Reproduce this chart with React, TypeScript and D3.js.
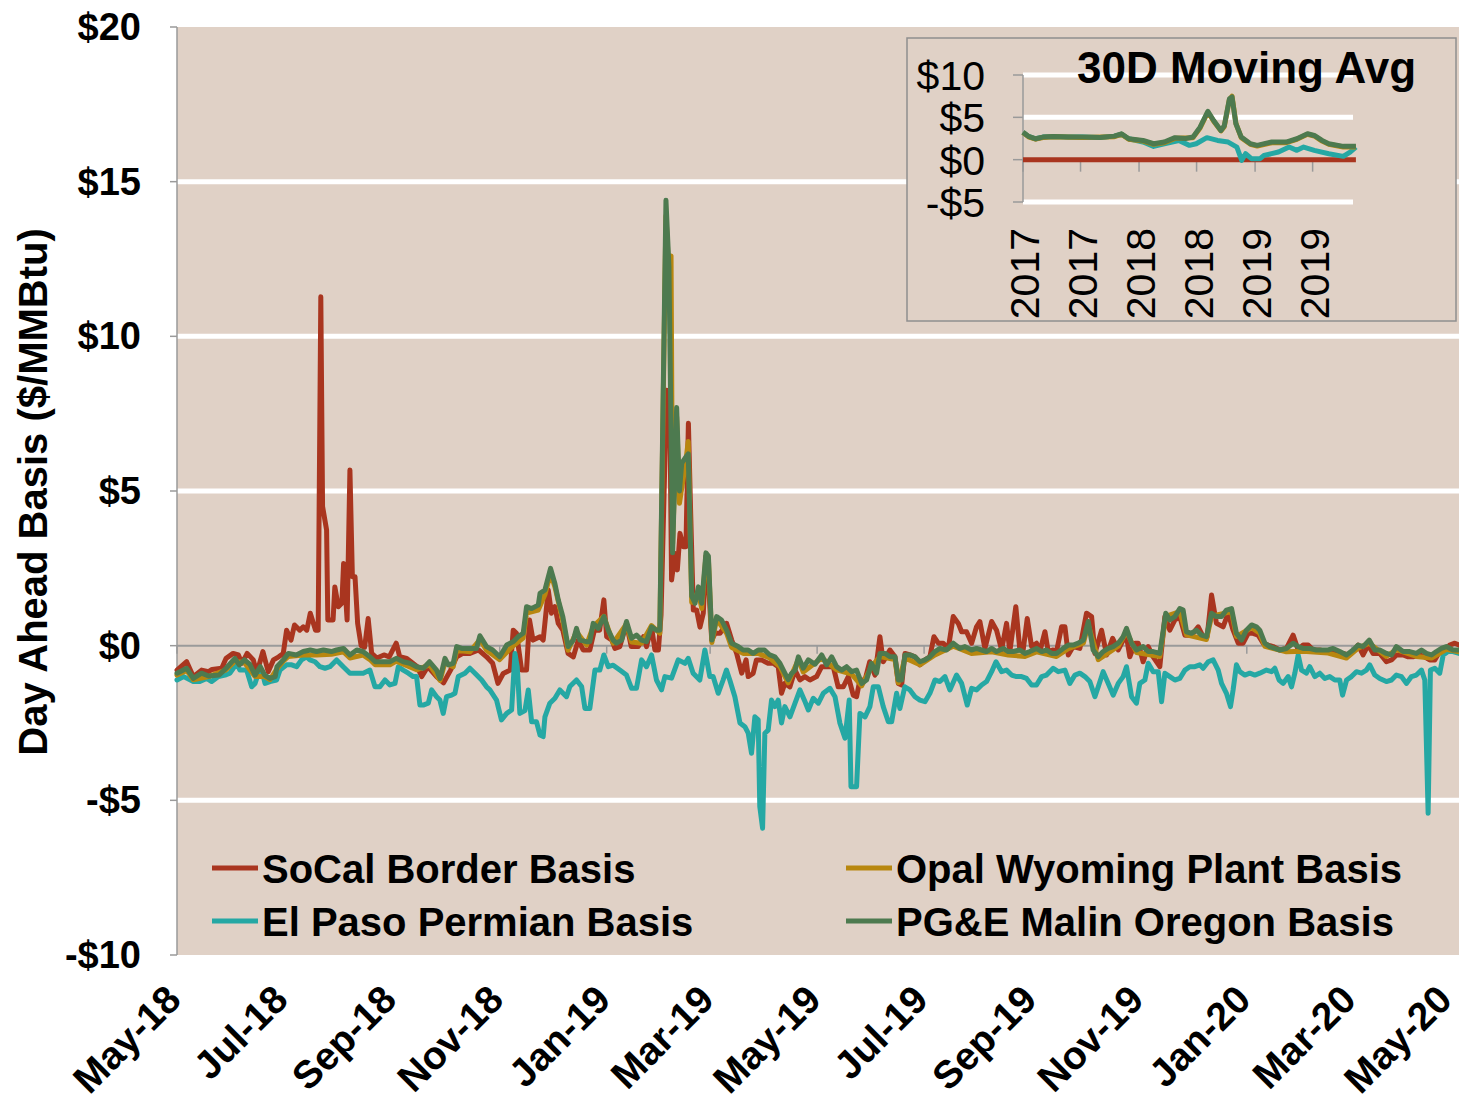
import React from 'react';
import * as d3 from 'd3';

type Pt = [number, number];

const seriesNames = ['SoCal Border Basis', 'El Paso Permian Basis', 'Opal Wyoming Plant Basis', 'PG&E Malin Oregon Basis'];
const seriesColors = ['#a9351f', '#25a8a4', '#b8870f', '#4d7a4f'];

// main chart points: [days since May 1 2018, $/MMBtu]
const socal: Pt[] = [
  [0, -0.79], [5.5, -0.52], [9.3, -1.0], [14, -0.79], [18, -0.84], [20, -0.77], [25.5, -0.73], [28, -0.41], [32, -0.25],
  [35, -0.3], [37, -0.57], [40, -0.25], [43.5, -0.46], [45.5, -0.89], [49, -0.19], [52, -0.84], [55, -0.46], [58, -0.36],
  [60.6, -0.25], [62.5, 0.5], [65, 0.18], [67, 0.67], [70, 0.5], [72, 0.61], [74, 0.5], [76, 1.05], [79, 0.5], [80.5, 0.5],
  [82, 11.28], [83, 4.5], [85.3, 3.74], [86, 0.83], [89, 0.83], [90, 1.9], [92, 1.26], [94, 1.37], [95, 2.66], [97, 0.83],
  [98.6, 5.68], [100, 2.23], [101.5, 2.23], [103, 0.72], [105, 0], [107, -0.05], [109, 0.88], [111, -0.25], [114, -0.4],
  [118, -0.3], [121, -0.36], [125, 0.08], [127, -0.36], [131, -0.41], [137, -0.68], [139.5, -1.0], [143, -0.68], [148, -1.0],
  [152, -1.2], [156, -0.79], [159.5, -0.36], [163, -0.25], [167, -0.25], [172, -0.14], [176.5, -0.36], [180, -0.57],
  [183, -1.22], [186, -0.9], [190, -0.79], [191.7, 0.5], [193.6, 0.4], [196.5, -0.79], [199.3, -0.79], [201, 0.83],
  [203, 0.18], [207, 0.29], [208.8, 0.18], [211.7, 1.8], [213.5, 1.05], [215.5, 1.26], [217.4, 0.72], [220, 0.5],
  [223, -0.25], [226, -0.36], [228.8, 0.18], [231.6, -0.14], [235.4, -0.14], [238, 0.5], [241, 0.5], [243.4, 1.48],
  [245, 0.29], [248, 0.18], [249.7, -0.09], [252.5, -0.03], [256.3, 0.72], [259, -0.03], [263, -0.03], [266, 0.29],
  [267.7, -0.03], [270.6, 0.61], [272.5, -0.14], [274.5, -0.14], [276, 1.0], [279.2, 8.26], [281.1, 7.2], [282, 2.12],
  [284, 2.98], [285.3, 2.45], [286.8, 3.63], [288.7, 3.2], [290.2, 3.2], [291.6, 7.19], [292.9, 4.28], [294.4, 1.15],
  [296.3, 1.15], [298.2, 0.6], [300.1, 1.05], [301.6, 2.88], [303, 2.12], [304.9, 0.18], [306.8, 0.4], [309.6, 0.4],
  [313.4, 0.72], [316.3, 0.18], [319.1, -0.25], [322, -0.89], [324.5, -0.46], [325.7, -1.0], [328.5, -0.9], [330.4, -0.46],
  [333.2, -0.46], [337, -0.57], [340, -0.57], [342.8, -0.68], [344.7, -1.54], [346.6, -1.22], [349.5, -1.33], [352.4, -0.79],
  [355.2, -1.11], [358, -1.0], [360.9, -1.11], [364.7, -1.0], [367.6, -0.68], [371.4, -0.68], [374.2, -0.68], [377, -1.33],
  [379.9, -1.33], [382.8, -1.0], [385.6, -1.6], [387.5, -1.65], [389.4, -1.11], [392.3, -1.11], [395, -0.52], [398, -0.95],
  [400.8, 0.29], [402.7, -0.52], [406.5, -0.14], [409.4, -0.36], [411.3, -1.22], [413.2, -1.27], [415.1, -0.25],
  [417.9, -0.3], [420.8, -0.36], [423.6, -0.62], [426.5, -0.46], [429.3, -0.36], [431.6, 0.29], [434.1, 0.08], [436.9, 0.08],
  [439.8, -0.09], [442.6, 0.94], [445.5, 0.72], [447.4, 0.45], [450.2, 0.45], [453.1, 0.08], [455.9, 0.61], [457.8, 0.78],
  [460.7, -0.09], [464.5, 0.78], [467.3, 0.5], [470.2, -0.14], [473, 0.72], [474.9, -0.19], [478.3, 1.26], [480.6, -0.14],
  [482.5, -0.14], [484.8, 0.88], [487.3, -0.03], [490.1, 0.08], [492, -0.19], [494.9, 0.45], [496.8, -0.19], [499.6, -0.14],
  [501.5, -0.19], [504.4, 0.61], [506.3, 0.61], [508.2, -0.3], [511, -0.03], [514.8, -0.09], [518.6, 1.05], [521.5, 0.94],
  [523.4, -0.25], [527.2, 0.5], [530.1, -0.3], [533.5, 0.24], [536.7, -0.14], [539.5, 0.18], [541.4, 0.29], [543.3, -0.36],
  [546.2, 0.08], [548.1, 0.08], [550.9, -0.52], [553.8, -0.03], [556.6, -0.36], [560.4, -0.68], [563.3, 0.94], [566.1, 0.5],
  [569, 0.83], [571.8, 0.94], [574.7, 0.34], [578.5, 0.34], [582.3, 0.61], [585.1, 0.29], [587.4, 0.29], [589.9, 1.64],
  [592.7, 0.72], [596.5, 0.61], [599.4, 1.05], [602.2, 0.5], [605.1, 0.08], [607.9, 0.08], [610.8, 0.4], [613.6, 0.4],
  [616.5, 0.34], [619.3, 0.08], [622.2, 0.02], [625, -0.03], [628.8, -0.14], [632.6, -0.09], [636.4, 0.34], [639.3, -0.14],
  [642.1, 0.02], [645, 0.02], [647.8, -0.14], [651.6, -0.14], [655.4, -0.19], [659.1, -0.14], [662, -0.3], [664.9, -0.25],
  [667.8, -0.3], [670.6, -0.19], [673.5, 0.02], [676.3, -0.3], [679.2, 0.02], [682, -0.25], [685.8, -0.25], [689.6, -0.52],
  [692.5, -0.46], [695.3, -0.3], [699.1, -0.3], [702, -0.36], [704.8, -0.36], [708.6, -0.3], [711.4, -0.36], [714.3, -0.46],
  [717.2, -0.46], [720, -0.19], [722.9, -0.19], [725.7, 0.02], [728.6, 0.08], [731, 0.02],
];

const elPaso: Pt[] = [
  [0, -1.11], [3.8, -1.0], [9.3, -1.16], [13, -1.16], [16.9, -1.06], [19.8, -1.16], [23.6, -1.0], [27.4, -0.95], [30.2, -0.89],
  [32.1, -0.73], [34, -0.57], [35.9, -0.79], [39.7, -0.79], [42.6, -1.33], [44.5, -1.22], [46.4, -0.89], [48.3, -0.79],
  [50.2, -1.22], [53, -1.16], [56.8, -1.11], [58.7, -0.79], [62.5, -0.62], [65.4, -0.62], [68.2, -0.68], [71, -0.46],
  [73.9, -0.36], [75.8, -0.46], [78.7, -0.52], [81.5, -0.68], [84.4, -0.73], [87.2, -0.68], [91, -0.46], [94.8, -0.68],
  [98.6, -0.89], [102.4, -0.89], [106.2, -0.89], [110, -0.79], [112.9, -1.33], [115.7, -1.33], [118.6, -1.11], [121.4, -1.27],
  [124.3, -1.22], [126.2, -0.68], [129, -0.79], [131.9, -0.89], [134.7, -1.0], [136.6, -1.0], [138.5, -1.92], [140.4, -1.92],
  [143.3, -1.86], [145.2, -1.43], [148, -1.65], [149.9, -1.76], [151.8, -2.19], [153.7, -1.65], [156.6, -1.6], [158.5, -1.54],
  [160.4, -1.0], [164.2, -0.89], [167, -0.73], [169.9, -0.89], [173.7, -1.11], [176.5, -1.33], [178.4, -1.43], [182.2, -1.76],
  [185, -2.4], [188, -2.19], [190.8, -2.08], [192.7, -0.25], [194, -0.68], [195.5, -2.19], [198.4, -2.1], [200.3, -1.43],
  [202.2, -2.46], [205, -2.46], [207, -2.89], [208.8, -2.94], [209.8, -2.3], [212.6, -1.86], [215.5, -1.7], [218.3, -1.43],
  [222.1, -1.65], [224, -1.32], [227.8, -1.11], [230.7, -1.32], [232.6, -2.03], [235.4, -2.03], [238.3, -0.79], [241.1, -0.79],
  [243.4, -0.3], [245.9, -0.68], [248.7, -0.63], [252.5, -0.79], [256.3, -0.95], [259.2, -1.38], [262, -1.38], [264.9, -0.46],
  [267.7, -0.68], [270.6, -0.3], [273.4, -1.11], [276.3, -1.43], [278.2, -1.0], [282, -1.05], [285.8, -0.46], [289.6, -0.57],
  [291.5, -0.41], [294.3, -0.89], [298.1, -1.11], [301, -0.14], [303.8, -1.0], [305.7, -1.0], [308.6, -1.54], [311.4, -1.11],
  [313.3, -0.79], [315.2, -1.11], [318.1, -1.65], [321, -2.5], [323.8, -2.62], [325.7, -2.83], [327.6, -3.48], [329.5, -2.3],
  [331.4, -2.4], [332.3, -5.2], [333.9, -5.9], [335.2, -2.83], [337.1, -2.73], [339, -1.76], [340.9, -1.97], [342.8, -1.76],
  [344.7, -2.5], [346.6, -1.97], [349.5, -2.3], [352.4, -1.86], [355.2, -1.43], [358, -1.8], [360, -2.08], [362.8, -1.7],
  [365.7, -1.86], [368.5, -1.54], [372.3, -1.38], [375.2, -1.65], [378, -2.51], [380.9, -2.99], [383.3, -1.76], [384.3, -4.56],
  [387.5, -4.56], [389.4, -2.19], [392.3, -2.3], [395.1, -1.97], [397, -1.33], [399.9, -1.33], [402.7, -1.97], [405.6, -2.46],
  [407.5, -2.46], [410.3, -1.54], [412.2, -2.03], [415, -1.33], [417.9, -1.43], [420.8, -1.65], [423.6, -1.76], [426.5, -1.81],
  [429.3, -1.54], [432.2, -1.11], [435, -1.16], [437.9, -1.0], [440.7, -1.43], [444.5, -0.95], [447.4, -1.22], [450.6, -1.92],
  [453.1, -1.38], [455.9, -1.43], [458.8, -1.27], [461.6, -1.16], [464.5, -0.84], [467, -0.52], [470.2, -0.84], [473, -0.79],
  [475.9, -0.95], [478.7, -1.0], [481.6, -1.0], [484.4, -1.06], [487.3, -1.27], [490.1, -1.27], [493, -1.0], [495.8, -0.95],
  [499.6, -0.73], [502.5, -0.84], [506.3, -0.79], [509.1, -1.22], [512, -0.95], [514.8, -0.89], [517.7, -1.0], [520.5, -1.16],
  [523.4, -1.65], [525.3, -1.33], [528.1, -0.84], [531, -1.22], [533.8, -1.6], [536.7, -1.22], [539.5, -1.0], [541.4, -0.68],
  [544.3, -1.65], [547.1, -1.86], [549, -1.22], [551.9, -1.11], [553.8, -0.57], [556.6, -0.84], [559.5, -0.84], [561.4, -1.81],
  [563.3, -0.89], [566.1, -1.0], [569, -1.11], [571.8, -1.06], [574.7, -0.79], [577.5, -0.68], [580.4, -0.68], [583.2, -0.62],
  [585.1, -0.73], [588, -0.52], [590.8, -0.46], [593.7, -0.79], [595.6, -1.22], [598.4, -1.54], [600.7, -1.97], [602.2, -1.43],
  [604.1, -0.62], [606, -0.84], [608.9, -0.95], [611.7, -0.89], [614.6, -0.95], [617.4, -0.89], [621.2, -0.79], [624.1, -0.84],
  [626, -0.73], [628.4, -1.11], [630.7, -1.22], [633.6, -1.0], [635.5, -1.33], [637.4, -0.89], [639.3, -0.3], [641.2, -0.79],
  [644, -0.89], [645.9, -0.68], [648.8, -1.0], [651.6, -0.89], [654.5, -1.06], [657.3, -1.0], [660.2, -1.11], [663, -1.11],
  [664.6, -1.6], [666.9, -1.11], [669.7, -1.0], [672.5, -0.84], [675.4, -0.89], [678.2, -0.79], [680.1, -0.62], [683, -0.95],
  [685.8, -1.06], [689.6, -1.16], [692.5, -1.11], [695.3, -0.95], [698.2, -1.0], [701, -1.22], [703.9, -1.0], [706.7, -0.95],
  [709.6, -0.79], [711.5, -1.11], [713.4, -5.42], [714.7, -0.79], [717.2, -0.73], [720, -0.89], [722, -0.3], [724.8, -0.19],
  [727.6, -0.19], [731, -0.25],
];

const opal: Pt[] = [
  [0, -0.95], [5.5, -0.8], [9.3, -1.1], [18, -1.0], [28, -0.78], [33, -0.5], [38.5, -0.55], [44.5, -1.0], [50, -1.0],
  [53, -1.1], [57, -0.75], [60.6, -0.5], [63.5, -0.35], [72, -0.3], [79.6, -0.3], [88, -0.28], [95, -0.2], [98.6, -0.4],
  [106, -0.3], [110, -0.45], [113, -0.62], [121.4, -0.62], [125, -0.5], [136.6, -0.78], [144, -0.62], [150, -1.12],
  [152.8, -0.55], [157.5, -0.68], [159.5, -0.15], [167, -0.2], [172.7, 0.2], [176.5, -0.15], [184, -0.45], [191.7, 0.0],
  [197.4, 0.25], [199.3, 1.05], [206, 1.15], [209.8, 1.65], [213, 2.35], [215.5, 1.9], [220, 0.8], [223, -0.15],
  [227.8, 0.45], [233.5, 0.02], [237.3, 0.62], [243.4, 0.95], [248.7, 0.08], [256.3, 0.7], [259.2, 0.12], [264.9, 0.08],
  [270.6, 0.65], [275.3, 0.4], [278.8, 13.9], [280.5, 12.0], [281.7, 12.6], [282.6, 3.3], [284.9, 7.4], [286.5, 4.6],
  [290.2, 6.0], [291.5, 6.6], [293.5, 1.4], [297.3, 1.75], [299.2, 1.2], [301.6, 2.9], [303, 2.8], [305, 0.1], [307.7, 0.85],
  [313.4, 0.4], [316.2, -0.05], [322.8, -0.25], [331.4, -0.25], [338, -0.4], [343.8, -0.68], [348.5, -1.2], [354.3, -0.45],
  [357.1, -0.85], [367.6, -0.4], [376.1, -0.78], [384.7, -0.92], [390.4, -1.3], [396, -0.68], [400.8, -0.35], [409.4, -0.45],
  [411.3, -1.2], [415.1, -0.4], [423.6, -0.62], [432.2, -0.3], [442.6, -0.02], [453, -0.25], [464.5, -0.2], [474, -0.3],
  [483.5, -0.35], [490.1, -0.2], [501.5, -0.35], [508.2, -0.1], [516.8, 0.08], [519.6, 0.68], [525.3, -0.45], [536.7, -0.02],
  [541.4, 0.45], [547.1, -0.22], [560.4, -0.35], [563.8, 0.95], [571.8, 1.1], [575.6, 0.35], [587, 0.2], [589.9, 0.95],
  [601.3, 1.1], [604.1, 0.3], [612.7, 0.58], [617.4, 0.4], [620.3, -0.02], [632.6, -0.2], [642.1, -0.18], [656.4, -0.24],
  [666.8, -0.4], [673.5, -0.08], [679.8, 0.08], [689.6, -0.35], [695.3, -0.13], [706.7, -0.35], [715.3, -0.4], [723.8, -0.12],
  [731, -0.2],
];

const malin: Pt[] = [
  [0, -0.89], [5.5, -0.73], [9.3, -1.06], [14, -0.89], [18, -0.98], [24, -0.95], [28, -0.73], [33, -0.41], [35.5, -0.62],
  [38.5, -0.46], [41.5, -0.6], [44.5, -0.95], [47.5, -0.68], [50, -0.95], [53, -1.06], [56, -1.0], [57, -0.68], [60.6, -0.46],
  [63.5, -0.25], [68, -0.3], [72, -0.19], [76, -0.14], [79.6, -0.19], [83.5, -0.14], [88, -0.19], [91, -0.14], [95, -0.09],
  [98.6, -0.3], [102.5, -0.14], [106, -0.19], [110, -0.36], [113, -0.52], [118, -0.52], [121.4, -0.52], [125, -0.41],
  [129, -0.52], [132.8, -0.57], [136.6, -0.68], [140.5, -0.73], [144, -0.52], [148, -0.79], [150, -1.06], [152.8, -0.41],
  [154.7, -0.62], [157.5, -0.57], [159.5, -0.03], [162.3, -0.09], [167, -0.09], [170.8, -0.09], [172.7, 0.32], [176.5, -0.03],
  [180, -0.14], [184, -0.36], [188, 0.02], [191.7, 0.13], [194.5, 0.29], [197.4, 0.4], [199.3, 1.26], [202.2, 1.2], [206, 1.31],
  [207, 1.69], [209.8, 1.8], [213, 2.5], [215.5, 2.0], [217.4, 1.48], [220, 0.94], [223, -0.03], [226, 0.18], [227.8, 0.56],
  [229.7, 0.18], [233.5, 0.13], [235.4, 0.13], [237.3, 0.72], [240.2, 0.56], [243.4, 0.94], [245.9, 0.5], [248.7, 0.18],
  [250.6, 0.08], [253.5, 0.18], [256.3, 0.78], [259.2, 0.24], [262, 0.34], [264.9, 0.18], [267.7, 0.13], [270.6, 0.61],
  [273.4, 0.5], [275.3, 0.5], [278.8, 14.4], [280.5, 12.25], [282.6, 3.0], [284.9, 7.7], [286.5, 5.0], [287.8, 5.9],
  [290.2, 6.1], [291.5, 6.2], [293.5, 1.6], [295.4, 1.37], [297.3, 1.9], [299.2, 1.37], [301.6, 3.0], [303, 2.9], [305, 0.18],
  [307.7, 0.94], [310.5, 0.83], [313.4, 0.5], [316.2, 0.08], [320, -0.03], [322.8, -0.14], [325.7, -0.14], [328.5, -0.25],
  [331.4, -0.14], [335, -0.14], [338, -0.3], [340.9, -0.36], [343.8, -0.57], [346.6, -0.89], [348.5, -1.1], [350.4, -0.9],
  [352.4, -0.79], [354.3, -0.36], [357.1, -0.73], [360, -0.46], [363.8, -0.6], [367.6, -0.3], [370.4, -0.62], [373.3, -0.36],
  [376.1, -0.68], [379, -0.79], [381.8, -0.68], [384.7, -0.84], [387.5, -0.79], [390.4, -1.22], [393.2, -1.11], [396, -0.57],
  [398.9, -0.89], [400.8, -0.25], [403.7, -0.25], [406.5, -0.36], [409.4, -0.36], [411.3, -1.11], [413.2, -1.11],
  [415.1, -0.3], [417.9, -0.3], [420.8, -0.36], [423.6, -0.52], [426.5, -0.46], [429.3, -0.36], [432.2, -0.19], [435, -0.09],
  [438.8, -0.14], [442.6, 0.08], [446.4, -0.09], [449.3, -0.03], [453, -0.14], [455.9, -0.09], [458.8, -0.14], [461.6, -0.19],
  [464.5, -0.09], [467.3, -0.19], [471.1, -0.09], [474, -0.19], [476.8, -0.19], [480.6, -0.14], [483.5, -0.25], [486.3, -0.19],
  [490.1, -0.09], [493, -0.19], [495.8, -0.14], [498.7, -0.25], [501.5, -0.25], [505.3, -0.09], [508.2, 0.02], [511, 0.02],
  [513.9, 0.08], [516.8, 0.18], [519.6, 0.78], [522.4, -0.14], [525.3, -0.36], [528.1, -0.19], [531, -0.09], [533.8, -0.03],
  [536.7, 0.08], [539.5, 0.29], [541.4, 0.56], [544.3, 0.08], [547.1, -0.14], [550.9, -0.03], [553.8, -0.19], [556.6, -0.19],
  [560.4, -0.25], [563.8, 1.05], [566.1, 0.83], [569, 0.94], [571.8, 1.2], [573.7, 1.15], [575.6, 0.45], [578.5, 0.4],
  [581.3, 0.5], [584.2, 0.34], [587, 0.29], [589.9, 1.05], [592.7, 0.94], [595.6, 0.94], [598.4, 1.15], [601.3, 1.2],
  [604.1, 0.4], [607, 0.18], [609.8, 0.5], [612.7, 0.67], [615.5, 0.61], [617.4, 0.5], [620.3, 0.08], [623.1, -0.03],
  [626, -0.09], [628.8, -0.14], [632.6, -0.09], [636.4, 0.08], [639.3, -0.03], [642.1, -0.09], [645.9, -0.09], [649.7, -0.14],
  [652.6, -0.14], [656.4, -0.14], [659.2, -0.09], [663, -0.19], [666.8, -0.3], [670.6, -0.14], [673.5, 0.02], [676.3, -0.03],
  [679.8, 0.18], [683, -0.14], [685.8, -0.14], [689.6, -0.25], [692.5, -0.3], [695.3, -0.03], [699.1, -0.19], [702.9, -0.19],
  [706.7, -0.25], [709.6, -0.14], [712.4, -0.25], [715.3, -0.3], [718.1, -0.19], [721, -0.09], [723.8, -0.03], [727.6, -0.14],
  [731, -0.14],
];

// inset, 30 day moving average: [months since Jan 2017, $/MMBtu]
const avgSocal: Pt[] = [[0, 0], [34.4, 0]];
const avgElPaso: Pt[] = [
  [0, 3.25], [0.57, 2.75], [1.31, 2.47], [2.05, 2.67], [3.16, 2.75], [4.64, 2.67], [6.12, 2.67], [7.96, 2.63], [9.44, 2.78],
  [10.18, 3.0], [10.92, 2.47], [12.4, 2.08], [13.5, 1.57], [14.6, 1.88], [16.1, 2.27], [17.2, 1.69], [17.9, 1.88], [19.0, 2.6],
  [20.1, 2.27], [21.2, 2.08], [22.1, 1.49], [22.6, -0.08], [23.0, 0.7], [23.6, 0.12], [24.5, 0.12], [24.9, 0.5], [26.4, 0.9],
  [27.5, 1.49], [28.3, 1.1], [29.0, 1.49], [30.1, 1.1], [31.6, 0.7], [33.1, 0.39], [33.8, 0.9], [34.4, 1.49],
];
const avgOpal: Pt[] = [
  [0, 3.2], [0.57, 2.7], [1.31, 2.42], [2.05, 2.62], [3.16, 2.7], [6.12, 2.62], [9.44, 2.72], [10.18, 3.0], [10.92, 2.42],
  [12.4, 2.2], [13.5, 1.82], [14.6, 2.0], [15.7, 2.52], [17.57, 2.6], [18.3, 3.75], [19.1, 5.6], [19.7, 4.55], [20.45, 3.4],
  [20.8, 3.9], [21.33, 7.1], [21.6, 7.5], [22.0, 4.3], [22.55, 2.6], [23.5, 1.82], [24.2, 1.62], [25.7, 2.0], [27.2, 2.0],
  [28.3, 2.4], [29.4, 3.0], [30.1, 2.8], [30.9, 2.2], [31.6, 1.82], [33.1, 1.5], [34.4, 1.5],
];
const avgMalin: Pt[] = [
  [0, 3.25], [0.57, 2.75], [1.31, 2.47], [2.05, 2.67], [3.16, 2.75], [4.64, 2.67], [6.12, 2.67], [7.96, 2.63], [9.44, 2.78],
  [10.18, 3.06], [10.92, 2.47], [12.4, 2.27], [13.5, 1.88], [14.6, 2.08], [15.7, 2.6], [16.8, 2.5], [17.57, 2.67], [18.3, 3.84],
  [19.1, 5.72], [19.7, 4.63], [20.45, 3.45], [20.8, 4.0], [21.33, 7.18], [21.6, 7.4], [22.0, 4.24], [22.55, 2.67], [23.5, 1.88],
  [24.2, 1.69], [25.7, 2.08], [27.2, 2.08], [28.3, 2.47], [29.4, 3.06], [30.1, 2.86], [30.9, 2.27], [31.6, 1.88], [33.1, 1.57],
  [34.4, 1.57],
];

const yTicks = [-10, -5, 0, 5, 10, 15, 20];
const gridValues = [-5, 5, 10, 15];
const insetYTicks = [-5, 0, 5, 10];
const insetGrid = [-5, 5, 10];

const mainSeries = [socal, elPaso, opal, malin];
const insetSeries = [avgSocal, avgElPaso, avgOpal, avgMalin];

const FONT = '"Liberation Sans", Arial, Helvetica, sans-serif';
const BG = '#e0d1c6';
const AXIS = '#9a9a9a';
const DAY = 864e5;

const start = new Date(2018, 4, 1);
const end = new Date(2020, 4, 1);
const insetStart = new Date(2017, 0, 1);
const insetEnd = new Date(2019, 10, 5);

const App: React.FC = () => {
  const left = 177, right = 1459, top = 27, bottom = 955;

  const x = d3.scaleTime().domain([start, end]).range([left, right]);
  const y = d3.scaleLinear().domain([-10, 20]).range([bottom, top]);

  const line = d3.line<Pt>()
    .x(d => x(new Date(start.getTime() + d[0] * DAY)))
    .y(d => y(d[1]));

  const xTicks = x.ticks(d3.timeMonth.every(2)!);
  const fmt = d3.timeFormat('%b-%y');

  // inset
  const ix = d3.scaleTime().domain([insetStart, insetEnd]).range([1023, 1353]);
  const iy = d3.scaleLinear().domain([-5, 10]).range([202, 75]);
  const insetLine = d3.line<Pt>()
    .x(d => ix(new Date(insetStart.getTime() + d[0] * 30.44 * DAY)))
    .y(d => iy(d[1]));
  const ixTicks = ix.ticks(d3.timeMonth.every(6)!);
  const yearFmt = d3.timeFormat('%Y');
  const money = (v: number) => (v < 0 ? `-$${Math.abs(v)}` : `$${v}`);

  const legendPos = [
    { x: 212, y: 868 },
    { x: 212, y: 921 },
    { x: 846, y: 868 },
    { x: 846, y: 921 },
  ];

  return (
    <svg width={1459} height={1102} style={{ position: 'absolute', left: 0, top: 0, background: '#fff' }} fontFamily={FONT}>
      <rect x={left} y={top} width={right - left} height={bottom - top} fill={BG} />
      {gridValues.map(v => (
        <line key={v} x1={left} x2={right} y1={y(v)} y2={y(v)} stroke="#fff" strokeWidth={5} />
      ))}

      {/* y axis */}
      <line x1={left} x2={left} y1={top} y2={bottom} stroke={AXIS} strokeWidth={1.5} />
      {yTicks.map(v => (
        <g key={v}>
          <line x1={left - 7} x2={left} y1={y(v)} y2={y(v)} stroke={AXIS} strokeWidth={1.5} />
          <text x={141} y={y(v) + 13} textAnchor="end" fontSize={38} fontWeight="bold">{money(v)}</text>
        </g>
      ))}
      <text transform="translate(47,492) rotate(-90)" textAnchor="middle" fontSize={40} fontWeight="bold">
        Day Ahead Basis ($/MMBtu)
      </text>

      {/* zero line as x axis */}
      <line x1={left} x2={right} y1={y(0)} y2={y(0)} stroke={AXIS} strokeWidth={2} />
      {xTicks.map(t => (
        <g key={+t}>
          <line x1={x(t)} x2={x(t)} y1={y(0)} y2={y(0) + 8} stroke={AXIS} strokeWidth={1.5} />
          <text transform={`translate(${Math.min(x(t) + 6, 1454)},1002) rotate(-45)`} textAnchor="end" fontSize={39} fontWeight="bold">
            {fmt(t)}
          </text>
        </g>
      ))}

      {mainSeries.map((s, i) => (
        <path key={i} d={line(s) || ''} fill="none" stroke={seriesColors[i]} strokeWidth={5} strokeLinejoin="round" strokeLinecap="round" />
      ))}

      {/* legend */}
      {seriesNames.map((n, i) => (
        <g key={n}>
          <line x1={legendPos[i].x} x2={legendPos[i].x + 46} y1={legendPos[i].y} y2={legendPos[i].y} stroke={seriesColors[i]} strokeWidth={5} />
          <text x={legendPos[i].x + 50} y={legendPos[i].y + 15} fontSize={40} fontWeight="bold">{n}</text>
        </g>
      ))}

      {/* inset */}
      <rect x={907} y={38} width={549} height={283} fill={BG} stroke="#8f8f8f" strokeWidth={1.5} />
      {insetGrid.map(v => (
        <line key={v} x1={1023} x2={1353} y1={iy(v)} y2={iy(v)} stroke="#fff" strokeWidth={5} />
      ))}
      <line x1={1023} x2={1023} y1={iy(10)} y2={iy(-5)} stroke={AXIS} strokeWidth={1.5} />
      {insetYTicks.map(v => (
        <g key={v}>
          <line x1={1013} x2={1023} y1={iy(v)} y2={iy(v)} stroke={AXIS} strokeWidth={1.5} />
          <text x={985} y={iy(v) + 15} textAnchor="end" fontSize={41}>{money(v)}</text>
        </g>
      ))}
      <line x1={1023} x2={1353} y1={iy(0)} y2={iy(0)} stroke={AXIS} strokeWidth={1.5} />
      {ixTicks.map(t => (
        <g key={+t}>
          <line x1={ix(t)} x2={ix(t)} y1={iy(0)} y2={iy(0) + 12} stroke={AXIS} strokeWidth={1.5} />
          <text transform={`translate(${ix(t) + 16},228) rotate(-90)`} textAnchor="end" fontSize={41}>{yearFmt(t)}</text>
        </g>
      ))}
      {insetSeries.map((s, i) => (
        <path key={i} d={insetLine(s) || ''} fill="none" stroke={seriesColors[i]} strokeWidth={5} strokeLinejoin="round" />
      ))}
      <text x={1077} y={83} fontSize={44} fontWeight="bold">30D Moving Avg</text>
    </svg>
  );
};

export default App;
